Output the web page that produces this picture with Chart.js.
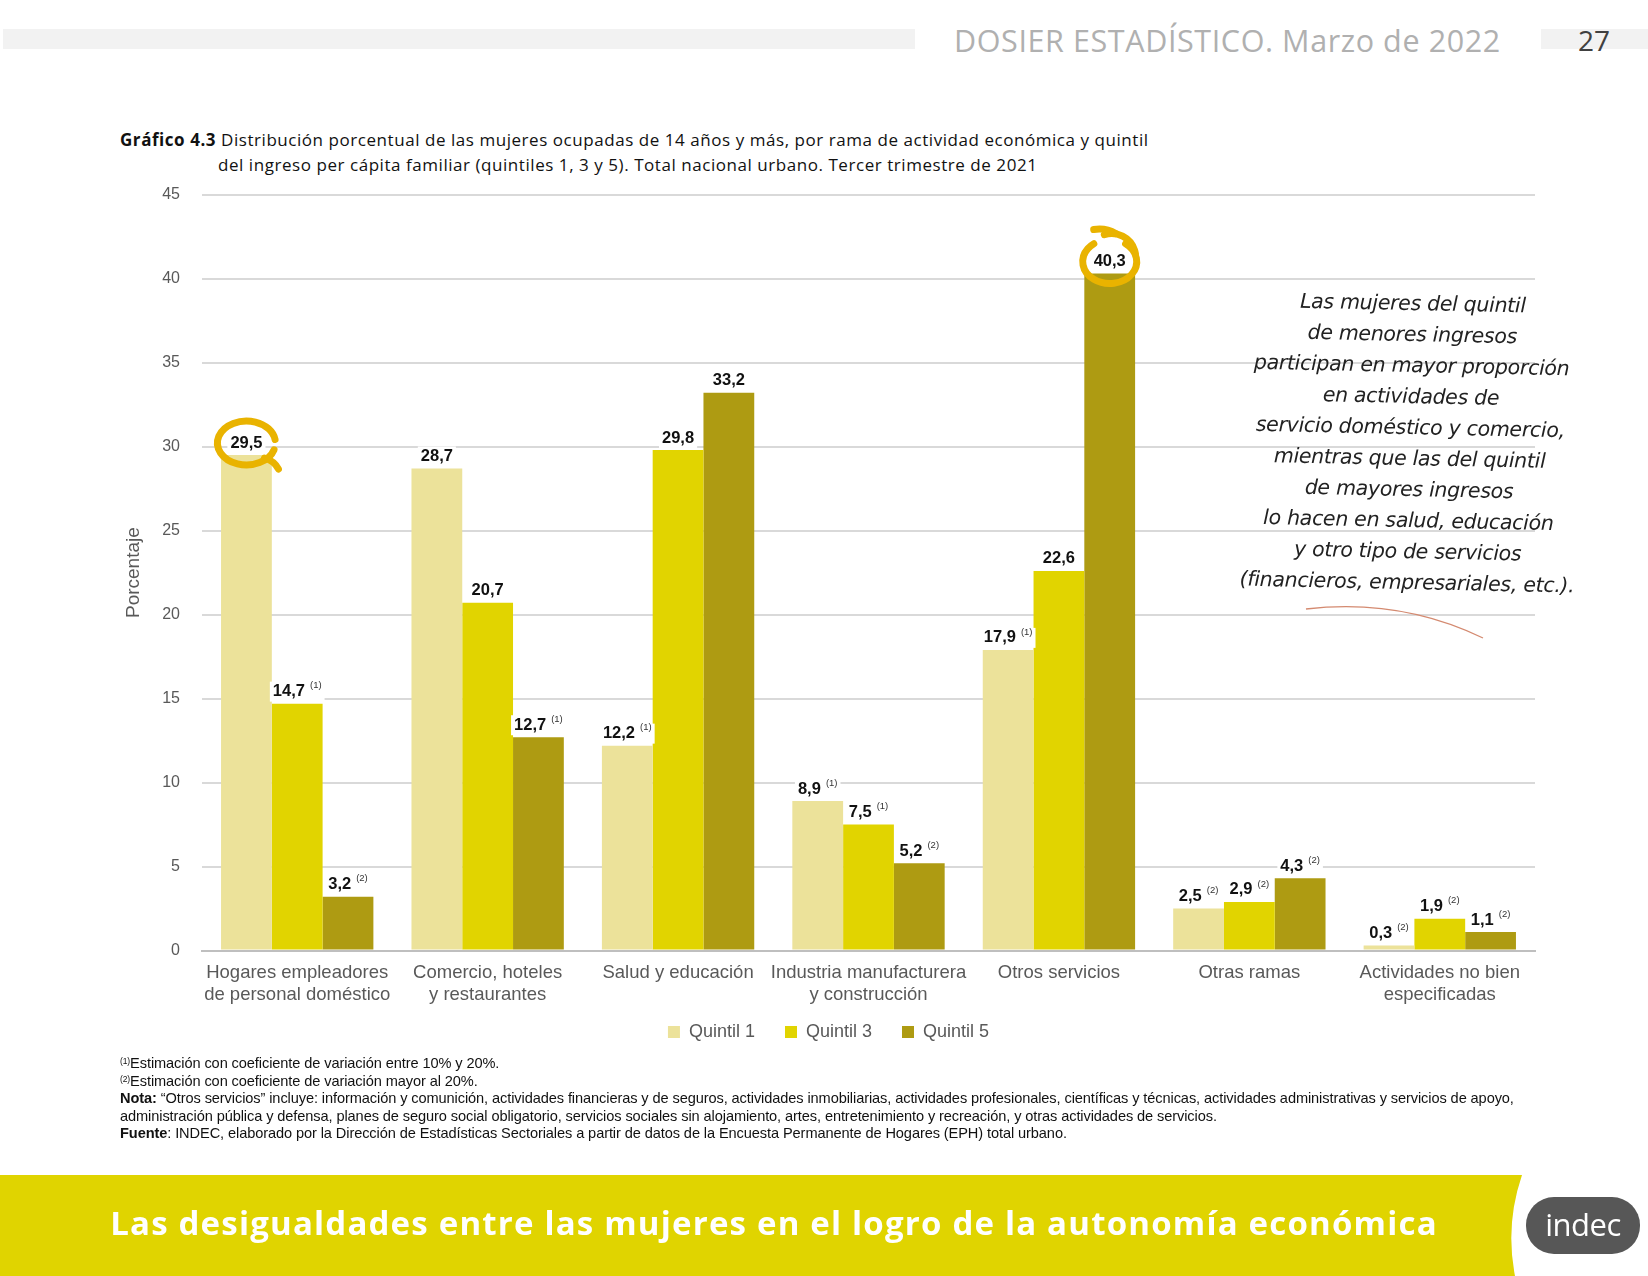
<!DOCTYPE html>
<html lang="es">
<head>
<meta charset="utf-8">
<script src="https://cdn.jsdelivr.net/npm/chart.js@4/dist/chart.umd.min.js"></script>
<style>
  html,body{margin:0;padding:0;background:#fff;}
  body{width:1648px;height:1276px;position:relative;overflow:hidden;font-family:"Liberation Sans",Arial,sans-serif;}
  .hbar{position:absolute;background:#f2f2f2;}
  #hdr{position:absolute;left:954px;top:19px;font-family:"Open Sans",sans-serif;font-size:30.5px;color:#b0b0b0;letter-spacing:0.6px;white-space:nowrap;}
  #pg{position:absolute;left:1578px;top:21px;font-family:"Open Sans",sans-serif;font-size:28px;color:#404040;}
  #title{position:absolute;left:120px;top:127px;font-family:"Open Sans",sans-serif;font-size:17px;color:#111;line-height:25px;white-space:nowrap;letter-spacing:0.55px;}
  #title .ind{padding-left:98px;}
  #chartbox{position:absolute;left:100px;top:163px;width:1460px;height:908px;}
  #note{position:absolute;left:1180px;top:288px;width:460px;text-align:center;font-family:"DejaVu Sans",sans-serif;font-style:italic;font-weight:300;font-size:20.5px;line-height:31px;color:#222;transform:rotate(1.2deg);letter-spacing:-0.3px;}
  #foot{position:absolute;left:120px;top:1055px;font-family:"Liberation Sans",Arial,sans-serif;font-size:14.6px;line-height:17.6px;color:#111;white-space:nowrap;letter-spacing:-0.1px;}
  #foot sup{font-size:8.5px;vertical-align:4px;line-height:0;}
  #banner{position:absolute;left:0;top:1175px;width:1648px;height:101px;}
  #btext{position:absolute;left:0;width:1548px;top:1200px;text-align:center;font-family:"Open Sans",sans-serif;font-weight:700;font-size:33px;color:#fff;white-space:nowrap;letter-spacing:1.2px;}
  #logo{position:absolute;left:1526px;top:1197px;width:114px;height:57px;border-radius:28px;background:#575757;color:#fff;font-family:"Open Sans",sans-serif;font-size:31px;line-height:55px;text-align:center;letter-spacing:-0.5px;}
</style>
</head>
<body>
<div class="hbar" style="left:3px;top:29px;width:912px;height:20px;"></div>
<div class="hbar" style="left:1541px;top:29px;width:107px;height:20px;"></div>
<div id="hdr">DOSIER ESTADÍSTICO. Marzo de 2022</div>
<div id="pg">27</div>
<div id="title"><b>Gráfico 4.3</b> Distribución porcentual de las mujeres ocupadas de 14 años y más, por rama de actividad económica y quintil<br><span class="ind">del ingreso per cápita familiar (quintiles 1, 3 y 5). Total nacional urbano. Tercer trimestre de 2021</span></div>
<div id="chartbox"><canvas id="c"></canvas></div>
<div id="note">Las mujeres del quintil<br>de menores ingresos<br>participan en mayor proporción<br>en actividades de<br>servicio doméstico y comercio,<br>mientras que las del quintil<br>de mayores ingresos<br>lo hacen en salud, educación<br>y otro tipo de servicios<br>(financieros, empresariales, etc.).</div>
<svg style="position:absolute;left:0;top:0" width="1648" height="1276"><path d="M1306 609 Q1400 598 1483 638" stroke="#d48a70" stroke-width="1.3" fill="none"/></svg>
<div id="foot">
<sup>(1)</sup>Estimación con coeficiente de variación entre 10% y 20%.<br>
<sup>(2)</sup>Estimación con coeficiente de variación mayor al 20%.<br>
<b>Nota:</b> “Otros servicios” incluye: información y comunición, actividades financieras y de seguros, actividades inmobiliarias, actividades profesionales, científicas y técnicas, actividades administrativas y servicios de apoyo,<br>
administración pública y defensa, planes de seguro social obligatorio, servicios sociales sin alojamiento, artes, entretenimiento y recreación, y otras actividades de servicios.<br>
<b>Fuente</b>: INDEC, elaborado por la Dirección de Estadísticas Sectoriales a partir de datos de la Encuesta Permanente de Hogares (EPH) total urbano.
</div>
<svg id="banner" width="1648" height="101"><path d="M0 0 L1522 0 Q1505 50 1515 101 L0 101 Z" fill="#e0d400"/></svg>
<div id="btext">Las desigualdades entre las mujeres en el logro de la autonomía económica</div>
<div id="logo">indec</div>
<script>
const categories = [
  ["Hogares empleadores","de personal doméstico"],
  ["Comercio, hoteles","y restaurantes"],
  ["Salud y educación"],
  ["Industria manufacturera","y construcción"],
  ["Otros servicios"],
  ["Otras ramas"],
  ["Actividades no bien","especificadas"]
];
const seriesNames = ["Quintil 1","Quintil 3","Quintil 5"];
const quintil1 = [29.5, 28.7, 12.2, 8.9, 17.9, 2.5, 0.3];
const quintil3 = [14.7, 20.7, 29.8, 7.5, 22.6, 2.9, 1.9];
const quintil5 = [3.2, 12.7, 33.2, 5.2, 40.3, 4.3, 1.1];
const notes1 = ["", "", "(1)", "(1)", "(1)", "(2)", "(2)"];
const notes3 = ["(1)", "", "", "(1)", "", "(2)", "(2)"];
const notes5 = ["(2)", "(1)", "", "(2)", "", "(2)", "(2)"];
const yTicks = [0,5,10,15,20,25,30,35,40,45];
const highlighted = [[0,0],[2,4]]; // [datasetIndex, categoryIndex]

const colors = ["#ece29a","#e1d400","#ae9b12"];
const allNotes = [notes1, notes3, notes5];

const legendShift = {
  id:'legendShift',
  afterLayout(chart){
    const lg = chart.legend;
    if(lg){ lg.top -= 16; lg.bottom -= 16; }
  }
};

const labelPlugin = {
  id:'labels',
  afterDatasetsDraw(chart){
    const ctx = chart.ctx;
    ctx.save();
    chart.data.datasets.forEach((ds,di)=>{
      const meta = chart.getDatasetMeta(di);
      meta.data.forEach((bar,i)=>{
        const v = ds.data[i];
        const txt = v.toFixed(1).replace('.',',');
        const note = allNotes[di][i];
        ctx.font = 'bold 16.5px "Liberation Sans", Arial, sans-serif';
        const w1 = ctx.measureText(txt).width;
        ctx.font = '9.5px "Liberation Sans", Arial, sans-serif';
        const gap = note ? 5 : 0;
        const w2 = note ? ctx.measureText(note).width : 0;
        const total = w1 + gap + w2;
        const x0 = bar.x - total/2;
        const yc = bar.y - 12;
        ctx.fillStyle = '#fff';
        ctx.fillRect(x0-3, yc-10, total+6, 20);
        ctx.fillStyle = '#111';
        ctx.textBaseline = 'middle';
        ctx.textAlign = 'left';
        ctx.font = 'bold 16.5px "Liberation Sans", Arial, sans-serif';
        ctx.fillText(txt, x0, yc);
        if(note){
          ctx.font = '9.5px "Liberation Sans", Arial, sans-serif';
          ctx.fillStyle = '#333';
          ctx.fillText(note, x0+w1+gap, yc-6);
        }
      });
    });
    highlighted.forEach(([di,i],k)=>{
      const bar = chart.getDatasetMeta(di).data[i];
      const cx = bar.x, cy = bar.y - 12;
      ctx.strokeStyle = '#e9b300';
      ctx.lineCap = 'round';
      ctx.lineWidth = 7;
      ctx.beginPath();
      if(k===0){
        ctx.ellipse(cx, cy, 29, 22, 0, Math.PI*0.1, Math.PI*1.95);
        ctx.stroke();
        ctx.beginPath();
        ctx.moveTo(cx+18, cy+15);
        ctx.quadraticCurveTo(cx+28, cy+18, cx+32, cy+26);
        ctx.stroke();
      } else {
        ctx.ellipse(cx, cy, 27, 22, 0, -Math.PI*0.3, Math.PI*1.3, false);
        ctx.stroke();
        ctx.beginPath();
        ctx.ellipse(cx+2, cy-4, 24, 24, 0, -Math.PI*0.6, -Math.PI*0.05, false);
        ctx.stroke();
        ctx.beginPath();
        ctx.moveTo(cx-16, cy-32);
        ctx.quadraticCurveTo(cx-4, cy-34, cx+6, cy-28);
        ctx.stroke();
      }
    });
    ctx.restore();
  }
};

new Chart(document.getElementById('c'), {
  type:'bar',
  data:{
    labels: categories,
    datasets:[
      {label:seriesNames[0], data:quintil1, backgroundColor:colors[0]},
      {label:seriesNames[1], data:quintil3, backgroundColor:colors[1]},
      {label:seriesNames[2], data:quintil5, backgroundColor:colors[2]}
    ]
  },
  options:{
    responsive:true,
    maintainAspectRatio:false,
    animation:false,
    devicePixelRatio:1,
    layout:{padding:{top:8,right:25,bottom:4,left:22}},
    datasets:{bar:{categoryPercentage:0.8, barPercentage:1.0}},
    plugins:{
      legend:{
        position:'bottom',
        labels:{boxWidth:12, boxHeight:12, padding:30, color:'#595959',
          font:{family:'"Liberation Sans", Arial, sans-serif', size:18}}
      },
      tooltip:{enabled:false}
    },
    scales:{
      x:{
        grid:{display:false},
        border:{display:true, color:'#bfbfbf', width:2},
        ticks:{color:'#595959', font:{family:'"Liberation Sans", Arial, sans-serif', size:18.5, lineHeight:1.2}, padding:3, maxRotation:0, autoSkip:false}
      },
      y:{
        min:0, max:45,
        afterBuildTicks(s){ s.ticks = yTicks.map(v=>({value:v})); },
        afterFit(s){ s.width = 80; },
        grid:{color:'#d9d9d9', lineWidth:2, drawTicks:false},
        border:{display:false},
        ticks:{color:'#595959', padding:22, font:{family:'"Liberation Sans", Arial, sans-serif', size:16}},
        title:{display:true, text:'Porcentaje', color:'#595959', padding:{top:0,bottom:8}, font:{family:'"Liberation Sans", Arial, sans-serif', size:19}}
      }
    }
  },
  plugins:[labelPlugin, legendShift]
});
</script>
</body>
</html>
